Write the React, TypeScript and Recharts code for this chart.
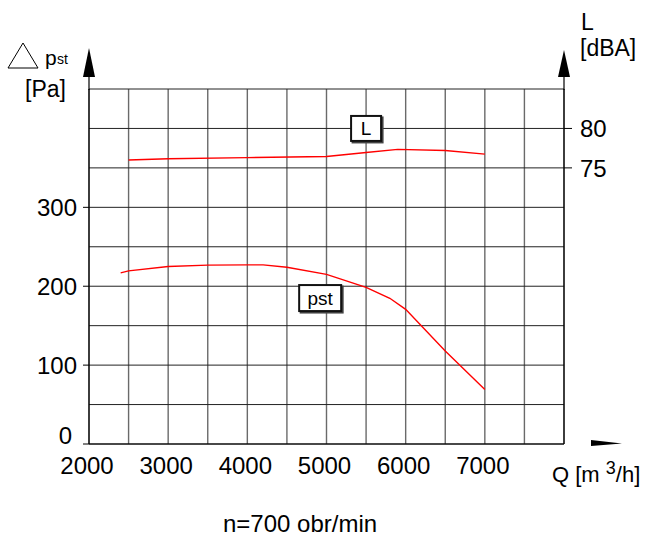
import React from 'react';
import { LineChart, Line, XAxis, YAxis, CartesianGrid, ReferenceDot } from 'recharts';

const pstQ = [2400, 2500, 3000, 3500, 4000, 4200, 4500, 5000, 5500, 5800, 6000, 6500, 7000];
const pstValues = [217, 219.5, 225, 226.8, 227, 227, 224, 215, 198.6, 184.7, 170.7, 118, 69];
const lQ = [2500, 3000, 4000, 5000, 5500, 5900, 6500, 7000];
const lValues = [76.0, 76.15, 76.3, 76.45, 76.95, 77.35, 77.2, 76.75];

const xTicks = [2000, 2500, 3000, 3500, 4000, 4500, 5000, 5500, 6000, 6500, 7000, 7500, 8000];
const xLabels = [2000, 3000, 4000, 5000, 6000, 7000];
const yTicks = [0, 50, 100, 150, 200, 250, 300, 350, 400, 450];
const yLabels = [0, 100, 200, 300];
const rTicks = [75, 80];

const pstData = pstQ.map((q, i) => ({ q, pst: pstValues[i] }));
const lData = lQ.map((q, i) => ({ q, L: lValues[i] }));

const FONT = '"Liberation Sans", Arial, sans-serif';
const FS = 24;

const XTick = (props: any) => {
  const { x, y, payload } = props;
  if (!xLabels.includes(payload.value)) return null;
  return (
    <text x={x - 2} y={y} dy="0.71em" textAnchor="middle" fontFamily={FONT} fontSize={FS} fill="#000">
      {payload.value}
    </text>
  );
};

const LeftTick = (props: any) => {
  const { x, y, payload } = props;
  if (!yLabels.includes(payload.value)) return null;
  const isZero = payload.value === 0;
  return (
    <g>
      <line x1={x + 6} x2={x + 12} y1={y} y2={y} stroke="#000" strokeWidth={1} />
      <text x={isZero ? x - 5 : x} y={isZero ? y - 9 : y} dy="0.36em" textAnchor="end" fontFamily={FONT} fontSize={FS} fill="#000">
        {payload.value}
      </text>
    </g>
  );
};

const RightTick = (props: any) => {
  const { x, y, payload } = props;
  return (
    <g>
      <line x1={x - 16} x2={x - 8} y1={y} y2={y} stroke="#000" strokeWidth={1} />
      <text x={x} y={y} dy="0.36em" textAnchor="start" fontFamily={FONT} fontSize={FS} fill="#000">
        {payload.value}
      </text>
    </g>
  );
};

const makeBox = (w: number, h: number, content: React.ReactNode) => (props: any) => {
  const { cx, cy } = props;
  return (
    <g>
      <rect x={cx - w / 2 + 1.5} y={cy - h / 2 + 1.5} width={w} height={h} fill="none" stroke="#444" strokeWidth={2} />
      <rect x={cx - w / 2} y={cy - h / 2} width={w} height={h} fill="#fff" stroke="#111" strokeWidth={2} />
      <text x={cx} y={cy} dy="0.36em" textAnchor="middle" fontFamily={FONT} fontSize={19} fill="#000">
        {content}
      </text>
    </g>
  );
};

const LBox = makeBox(30, 25, 'L');
const PBox = makeBox(42, 26, 'pst');

export default function App() {
  return (
    <div style={{ position: 'absolute', left: 0, top: 0, width: 645, height: 537, background: '#fff' }}>
      <LineChart
        width={645}
        height={537}
        margin={{ top: 89, right: 21, bottom: 63, left: 29 }}
      >
        <CartesianGrid yAxisId="left" vertical={true} horizontal={false} stroke="#6a6a6a" strokeWidth={1.4} />
        <CartesianGrid yAxisId="left" vertical={false} horizontal={true} stroke="#222" strokeWidth={1} />
        <XAxis
          dataKey="q"
          type="number"
          domain={[2000, 8000]}
          ticks={xTicks}
          interval={0}
          allowDataOverflow
          height={30}
          tickLine={false}
          tickSize={6}
          tickMargin={7}
          axisLine={{ stroke: '#000', strokeWidth: 1.2 }}
          tick={<XTick />}
        />
        <YAxis
          yAxisId="left"
          orientation="left"
          type="number"
          domain={[0, 450]}
          ticks={yTicks}
          interval={0}
          width={60}
          tickLine={false}
          tickSize={6}
          tickMargin={6}
          axisLine={{ stroke: '#000', strokeWidth: 1.2 }}
          tick={<LeftTick />}
        />
        <YAxis
          yAxisId="right"
          orientation="right"
          type="number"
          domain={[40, 85]}
          ticks={rTicks}
          interval={0}
          width={60}
          tickLine={false}
          tickSize={8}
          tickMargin={8}
          axisLine={{ stroke: '#000', strokeWidth: 1.2 }}
          tick={<RightTick />}
        />
        <Line
          yAxisId="left"
          data={pstData}
          dataKey="pst"
          type="linear"
          stroke="#ff0000"
          strokeWidth={1.4}
          dot={false}
          isAnimationActive={false}
        />
        <Line
          yAxisId="right"
          data={lData}
          dataKey="L"
          type="linear"
          stroke="#ff0000"
          strokeWidth={1.4}
          dot={false}
          isAnimationActive={false}
        />
        <ReferenceDot yAxisId="left" x={5500} y={400} r={0} shape={<LBox />} />
        <ReferenceDot yAxisId="left" x={4920} y={185} r={0} shape={<PBox />} />
      </LineChart>
      <svg
        width={645}
        height={537}
        style={{ position: 'absolute', left: 0, top: 0, pointerEvents: 'none' }}
      >
        <line x1={89} x2={89} y1={74} y2={90} stroke="#000" strokeWidth={1.2} />
        <polygon points="83,77 89,48 95,77" fill="#000" />
        <line x1={564} x2={564} y1={74} y2={90} stroke="#000" strokeWidth={1.2} />
        <polygon points="558,77 564,50 570,77" fill="#000" />
        <polygon points="591,440 622,443.5 591,446" fill="#000" />
        <polygon points="8,68 23,43 38,68" fill="none" stroke="#000" strokeWidth={1} />
        <text x={45} y={65} fontFamily={FONT} fontSize={21} fill="#000">p</text>
        <text x={57} y={64} fontFamily={FONT} fontSize={14} fill="#000">st</text>
        <text x={25} y={97} fontFamily={FONT} fontSize={23} fill="#000">[Pa]</text>
        <text x={581} y={30} fontFamily={FONT} fontSize={23} fill="#000">L</text>
        <text x={580} y={56} fontFamily={FONT} fontSize={23} fill="#000">[dBA]</text>
        <text x={552} y={482} fontFamily={FONT} fontSize={22} fill="#000">
          Q [m <tspan dy={-8} fontSize={18}>3</tspan><tspan dy={8}>/h]</tspan>
        </text>
        <text x={223} y={532} fontFamily={FONT} fontSize={24} fill="#000">n=700 obr/min</text>
      </svg>
    </div>
  );
}
